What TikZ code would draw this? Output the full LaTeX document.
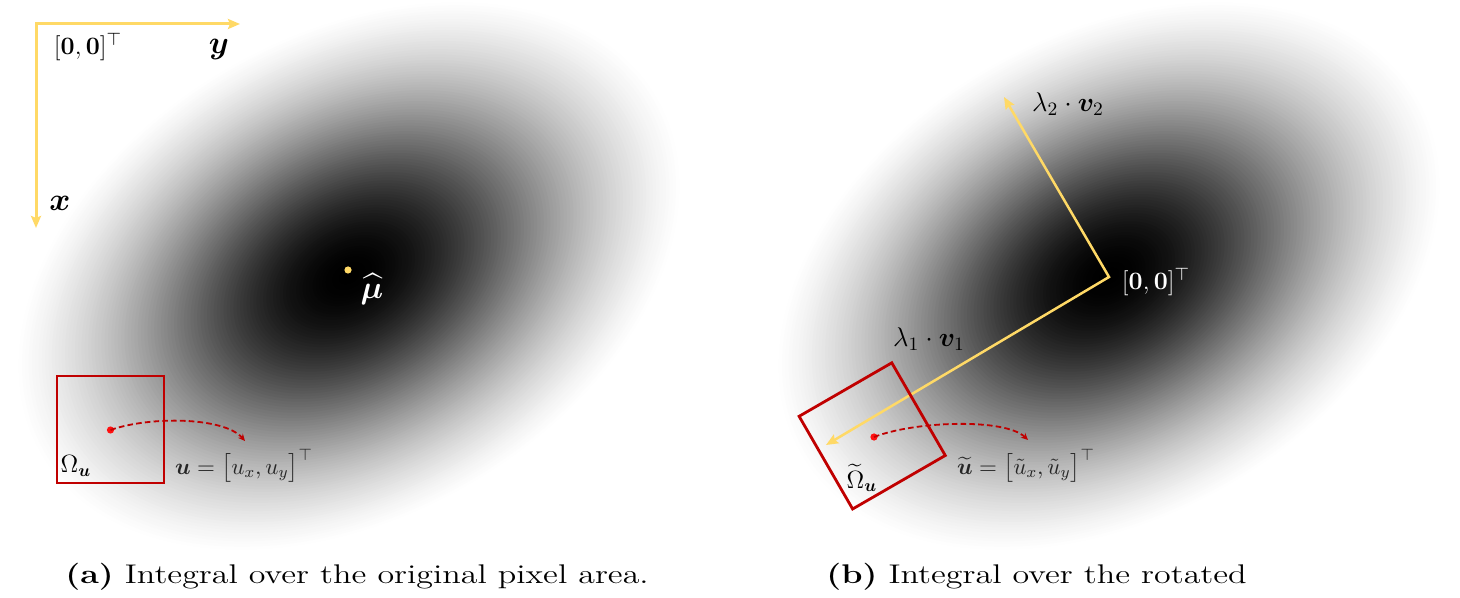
\RequirePackage{fix-cm}
\documentclass[tikz,border=0pt]{standalone}
\usepackage{amsmath}
\usepackage{bm}
\usepackage{graphicx}
\usetikzlibrary{arrows.meta}
\definecolor{axisyellow}{HTML}{FFD966}
\definecolor{boxred}{HTML}{C00000}
\definecolor{dotred}{HTML}{FF1010}
\begin{document}
\begin{tikzpicture}[x=0.5pt,y=-0.5pt,
  axisline/.style={draw=axisyellow, line width=1.5pt, line join=miter},
  vecline/.style={draw=axisyellow, line width=1.25pt, line join=miter},
  tipyellow/.style={{Stealth[length=6pt,width=5pt,inset=1pt]}-{Stealth[length=6pt,width=5pt,inset=1pt]}},
  pixbox/.style={draw=boxred, line width=1.4pt},
  reddot/.style={circle, fill=dotred, inner sep=0pt, minimum size=3.6pt},
  meandot/.style={circle, fill=axisyellow, inner sep=0pt, minimum size=3.6pt},
  mapping/.style={draw=boxred, line width=0.9pt, dash pattern=on 2.8pt off 1.6pt, -{Stealth[length=3.5pt,width=3.2pt]}},
  lab/.style={inner sep=0pt, font=\fontsize{12.5}{15}\selectfont},
  biglab/.style={inner sep=0pt, font=\fontsize{13.5}{16}\selectfont},
  axlab/.style={inner sep=0pt, font=\fontsize{16}{19}\selectfont},
  smalllab/.style={inner sep=0pt, text=black!85, font=\fontsize{11.5}{14}\selectfont},
  caption/.style={inner sep=0pt, anchor=base west, font=\fontsize{13.5}{16}\selectfont}]
\useasboundingbox (0,0) rectangle (1460,598);
\fill[white] (0,0) rectangle (1460,598);
% Gaussian densities
\foreach \cx/\cy in {349/276, 1109/276} {
  \foreach \i in {100,99,...,1} {
    \pgfmathsetmacro\r{(\i-0.5)/100}
    \pgfmathsetmacro\d{max(0,min(100,100*(exp(-2*\r*\r)-0.1353)/0.8647))}
    \fill[black!\d, rotate around={30:(\cx,\cy)}] (\cx,\cy) ellipse [x radius={3.55*\i}, y radius={2.4*\i}];
  }
}
% ---------- (a) ----------
\coordinate (O) at (36,24);
\coordinate (Yend) at (240,24);
\coordinate (Xend) at (36,228);
\draw[axisline, tipyellow] (Yend) -- (O) -- (Xend);
\node[lab] (zeroA) at (88,47) {$[\mathbf{0},\mathbf{0}]^{\top}$};
\node[axlab] (ylab) at (219,50) {$\bm{y}$};
\node[axlab] (xlab) at (60,203) {$\bm{x}$};
\node[meandot] (mu) at (348,270) {};
\node[axlab, text=white] (mulab) at (372,289) {$\widehat{\bm{\mu}}$};
\node[pixbox, minimum size=53.5pt, inner sep=0pt] (boxA) at (110.5,429.5) {};
\node[reddot] (pA) at (110.5,430) {};
\coordinate (eA) at (245,441);
\draw[mapping] (pA.center) .. controls (150,416) and (224,417) .. (eA);
\node[lab] (omegaA) at (76,466) {$\Omega_{\bm{u}}$};
\node[smalllab] (uA) at (244,466) {$\bm{u} = \bigl[u_x, u_y\bigr]^{\top}$};
% ---------- (b) ----------
\coordinate (O2) at (1109,277);
\coordinate (L1) at (826,445);
\coordinate (L2) at (1004,97);
\draw[vecline, tipyellow] (L2) -- (O2) -- (L1);
\node[biglab] (lam2) at (1068,104) {$\lambda_2\cdot\bm{v}_2$};
\node[biglab] (lam1) at (929,339) {$\lambda_1\cdot\bm{v}_1$};
\node[lab, text=white] (zeroB) at (1156,282) {$[\mathbf{0},\mathbf{0}]^{\top}$};
\node[pixbox, minimum size=53.5pt, inner sep=0pt, rotate=30] (boxB) at (872.2,435.9) {};
\node[reddot] (pB) at (874,437) {};
\coordinate (eB) at (1028,440);
\draw[mapping] (pB.center) .. controls (915,421) and (1005,418) .. (eB);
\node[lab] (omegaB) at (862,478) {$\widetilde{\Omega}_{\bm{u}}$};
\node[smalllab] (uB) at (1026,466) {$\widetilde{\bm{u}} = \bigl[\tilde{u}_x, \tilde{u}_y\bigr]^{\top}$};
% ---------- captions ----------
\node[caption] (capA) at (65,583) {\scalebox{1.26}[1]{\textbf{(a)} Integral over the original pixel area.}};
\node[caption] (capB) at (826,583) {\scalebox{1.26}[1]{\textbf{(b)} Integral over the rotated}};
\end{tikzpicture}
\end{document}
